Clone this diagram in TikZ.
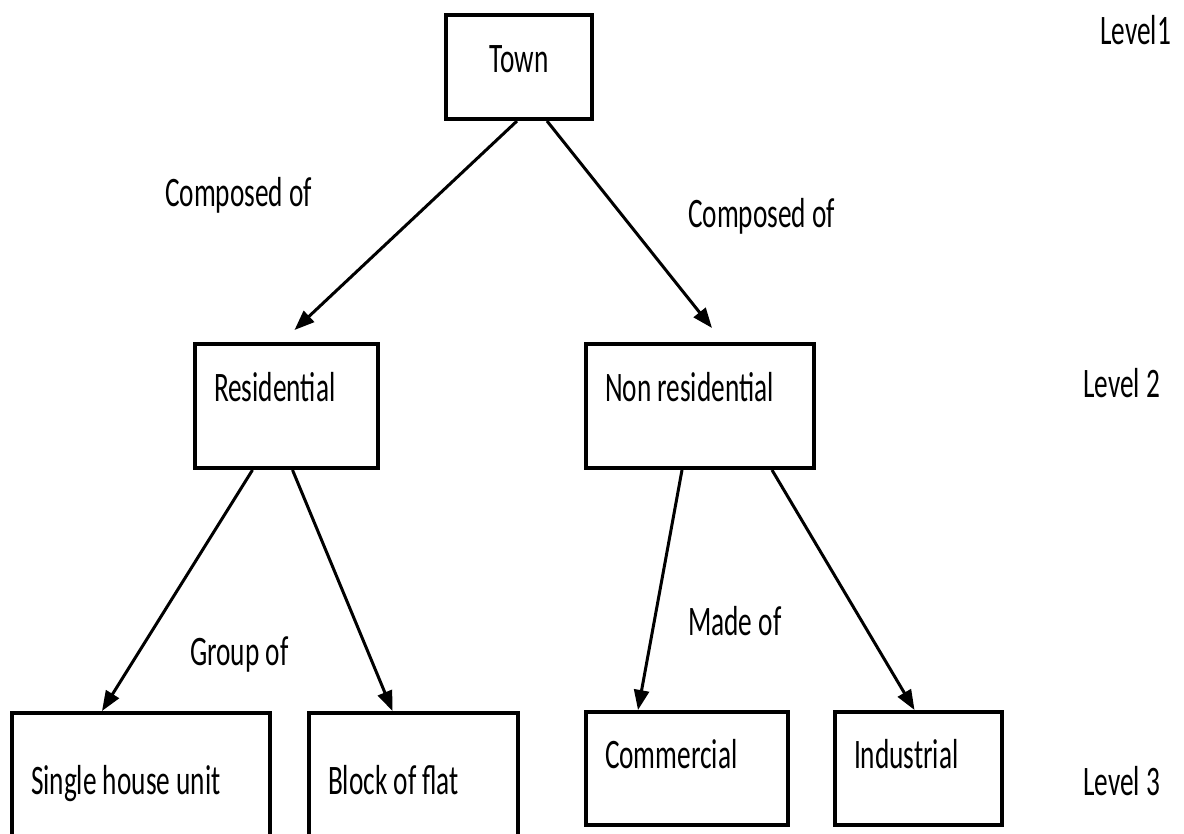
\documentclass[tikz,border=0pt]{standalone}
\usepackage{fontspec}
\setmainfont{Carlito}[FakeStretch=0.65]
\usetikzlibrary{arrows.meta}
\tikzset{
levbox/.style={
	draw,
	rectangle,
	anchor=north west,
	line width=4pt,
	inner xsep=19pt,
	inner ysep=0pt,
	align=flush left,
	font=\fontsize{42}{50}\selectfont
}
}
\tikzset{
linklabel/.style={
	anchor=base west,
	inner sep=0pt,
	font=\fontsize{42}{50}\selectfont
}
}
\tikzset{
linkarrow/.style={
	line width=3pt,
	-{Triangle[length=20pt,width=15pt]}
}
}

\begin{document}
\begin{tikzpicture}[x=1pt,y=1pt]
		\useasboundingbox (0,0) rectangle (1184,-834);
		% boxes
		\node[levbox, align=flush center, text width=108pt, text height=58pt, text depth=46pt] (town) at (444,-13) {Town};
		\node[levbox, text width=145pt, text height=58pt, text depth=66pt] (res) at (193,-342) {Residential};
		\node[levbox, text width=190pt, text height=58pt, text depth=66pt] (nonres) at (584,-342) {Non residential};
		\node[levbox, text width=220pt, text height=81pt, text depth=42pt] (single) at (10,-711) {Single house unit};
		\node[levbox, text width=171pt, text height=81pt, text depth=42pt] (block) at (307,-711) {Block of flat};
		\node[levbox, text width=164pt, text height=56pt, text depth=57pt] (comm) at (584,-710) {Commercial};
		\node[levbox, text width=129pt, text height=56pt, text depth=57pt] (ind) at (833,-710) {Industrial};
		% arrows
		\draw[linkarrow] ([xshift=-2pt]town.south) -- ([xshift=8pt,yshift=12pt]res.north);
		\draw[linkarrow] ([xshift=28pt]town.south) -- ([xshift=12pt,yshift=14pt]nonres.north);
		\draw[linkarrow] ([xshift=-34pt]res.south) -- ([xshift=-39pt]single.north);
		\draw[linkarrow] ([xshift=6pt]res.south) -- ([xshift=-21pt]block.north);
		\draw[linkarrow] ([xshift=-18pt]nonres.south) -- ([xshift=-49pt]comm.north);
		\draw[linkarrow] ([xshift=72pt]nonres.south) -- ([xshift=-4pt]ind.north);
		% labels
		\node[linklabel] (lab1) at (165,-207) {Composed of};
		\node[linklabel] (lab2) at (688,-228) {Composed of};
		\node[linklabel] (lab3) at (190,-665) {Group of};
		\node[linklabel] (lab4) at (688,-635) {Made of};
		\node[linklabel] (lev1) at (1100,-45) {Level1};
		\node[linklabel] (lev2) at (1083,-398) {Level 2};
		\node[linklabel] (lev3) at (1083,-795) {Level 3};
		\end{tikzpicture}
\end{document}
